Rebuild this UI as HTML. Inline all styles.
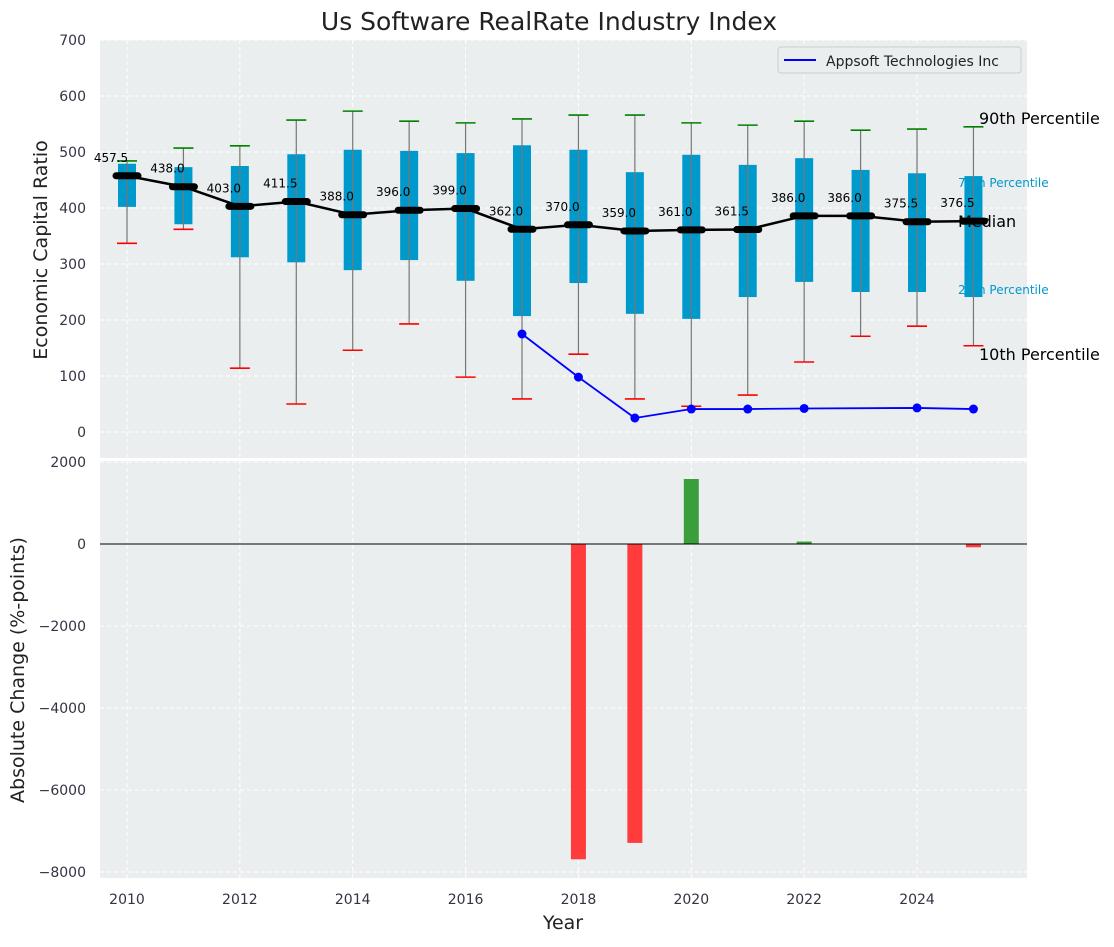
<!DOCTYPE html>
<html><head><meta charset="utf-8"><style>
body{margin:0;background:#fff;font-family:"Liberation Sans","DejaVu Sans",sans-serif}
svg text{font-family:"DejaVu Sans","Liberation Sans",sans-serif}
</style></head><body>
<svg id="chart" width="1114" height="942" xmlns="http://www.w3.org/2000/svg">
<text x="549" y="30" text-anchor="middle" font-size="25" fill="#222">Us Software RealRate Industry Index</text>
<rect x="100" y="40" width="927" height="418" fill="#eaeeef"/>
<rect x="100" y="461" width="927" height="417" fill="#eaeeef"/>
<g id="gtop"></g><g id="gbot"></g>
<text x="47" y="250" transform="rotate(-90 47 250)" text-anchor="middle" font-size="19" fill="#222">Economic Capital Ratio</text>
<text x="24" y="670" transform="rotate(-90 24 670)" text-anchor="middle" font-size="19" fill="#222">Absolute Change (%-points)</text>
<text x="563" y="929" text-anchor="middle" font-size="19" fill="#222">Year</text>
<g>
<rect x="778" y="47" width="243" height="26" rx="3" fill="#eaeeef" stroke="#ccc"/>
<line x1="784" y1="60" x2="816" y2="60" stroke="#0000ff" stroke-width="2"/>
<text x="826" y="66" font-size="14" fill="#222">Appsoft Technologies Inc</text>
</g>
<g id="overlay">
<text x="979" y="124" font-size="16" fill="#000">90th Percentile</text>
<text x="958" y="187" font-size="12" fill="#0099cc">75th Percentile</text>
<text x="958" y="227" font-size="16" fill="#000">Median</text>
<text x="958" y="294" font-size="12" fill="#0099cc">25th Percentile</text>
<text x="979" y="360" font-size="16" fill="#000">10th Percentile</text>
</g>
</svg>
<script>
const years=[2010,2011,2012,2013,2014,2015,2016,2017,2018,2019,2020,2021,2022,2023,2024,2025];
const p90=[484,507,511,557,573,555,552,559,566,566,552,548,555,539,541,545];
const p75=[479,473,475,496,504,502,498,512,504,464,495,477,489,468,462,457];
const median=[457.5,438,403,411.5,388,396,399,362,370,359,361,361.5,386,386,375.5,376.5];
const p25=[402,371,312,303,289,307,270,207,266,211,202,241,268,250,250,241];
const p10=[337,362,114,50,146,193,98,59,139,59,46,66,125,171,189,154];
const appYears=[2017,2018,2019,2020,2021,2022,2024,2025];
const appVals=[175,98,25,41,41,42,43,41];
const chgYears=[2018,2019,2020,2022,2025];
const chgVals=[-7690,-7290,1585,60,-80];
const topTicks=[0,100,200,300,400,500,600,700];
const botTicks=[2000,0,-2000,-4000,-6000,-8000];
const xTicks=[2010,2012,2014,2016,2018,2020,2022,2024];
const NS='http://www.w3.org/2000/svg';
const X=v=>127+(v-2010)*56.43;
const YT=v=>432-v*0.56;
const YB=v=>544-v*0.041;
const gTop=document.getElementById('gtop'),gBot=document.getElementById('gbot');
function mk(p,t,a){const e=document.createElementNS(NS,t);for(const k in a)e.setAttribute(k,a[k]);p.appendChild(e);return e;}
topTicks.forEach(v=>{
 let g=mk(gTop,'line',{x1:100,x2:1027,y1:YT(v),y2:YT(v),stroke:'#fff','stroke-dasharray':'4 3','stroke-width':1});
 
 
 let t=mk(gTop,'text',{x:86,y:YT(v)+5,'text-anchor':'end','font-size':14,fill:'#334'});t.textContent=v;
 
 
});
botTicks.forEach(v=>{
 let g=mk(gBot,'line',{x1:100,x2:1027,y1:YB(v),y2:YB(v),stroke:'#fff','stroke-dasharray':'4 3','stroke-width':1});
 
 
 let t=mk(gBot,'text',{x:86,y:YB(v)+5,'text-anchor':'end','font-size':14,fill:'#334'});t.textContent=v<0?'\u2212'+(-v):v;
 
 
});
xTicks.forEach(v=>{
 [[40,458],[461,878]].forEach(r=>{let g=mk(gTop,'line',{x1:X(v),x2:X(v),y1:r[0],y2:r[1],stroke:'#fff','stroke-dasharray':'4 3'});
 
 });
 let t=mk(gBot,'text',{x:X(v),y:904,'text-anchor':'middle','font-size':14,fill:'#334'});t.textContent=v;
 
 
});
years.forEach((y,i)=>{
 const x=X(y);
 let b=mk(gTop,'rect',{x:x-9,y:YT(p75[i]),width:18,height:YT(p25[i])-YT(p75[i]),fill:'#0099cc'});
 
 
 let w=mk(gTop,'line',{x1:x,x2:x,y1:YT(p10[i]),y2:YT(p90[i]),stroke:'#777','stroke-width':1.2});
 
 
 let c1=mk(gTop,'line',{x1:x-10,x2:x+10,y1:YT(p90[i]),y2:YT(p90[i]),stroke:'#008000','stroke-width':1.6});
 
 
 let c2=mk(gTop,'line',{x1:x-10,x2:x+10,y1:YT(p10[i]),y2:YT(p10[i]),stroke:'#ff0000','stroke-width':1.6});
 
 
});
let ml=mk(gTop,'polyline',{points:years.map((y,i)=>X(y)+','+YT(median[i])).join(' '),fill:'none',stroke:'#000','stroke-width':2.5});


years.forEach((y,i)=>{
 let m=mk(gTop,'line',{x1:X(y)-11,x2:X(y)+11,y1:YT(median[i]),y2:YT(median[i]),stroke:'#000','stroke-width':7,'stroke-linecap':'round'});
 
 
 let t=mk(gTop,'text',{x:X(y)-16,y:YT(median[i])-14,'text-anchor':'middle','font-size':12,fill:'#000'});t.textContent=median[i].toFixed(1);
 
 
});
let al=mk(gTop,'polyline',{points:appYears.map((y,i)=>X(y)+','+YT(appVals[i])).join(' '),fill:'none',stroke:'#0000ff','stroke-width':1.8});


appYears.forEach((y,i)=>{let c=mk(gTop,'circle',{cx:X(y),cy:YT(appVals[i]),r:4.5,fill:'#0000ff'});
 
 });
chgYears.forEach((y,i)=>{const v=chgVals[i];
 let r=mk(gBot,'rect',{x:X(y)-7.5,y:Math.min(YB(v),YB(0)),width:15,height:Math.abs(YB(v)-YB(0)),fill:v<0?'#ff3b3b':'#3a9e3a'});
 
 });
let z=mk(gBot,'line',{x1:100,x2:1027,y1:YB(0),y2:YB(0),stroke:'#000','stroke-width':1});


</script>
</body></html>
